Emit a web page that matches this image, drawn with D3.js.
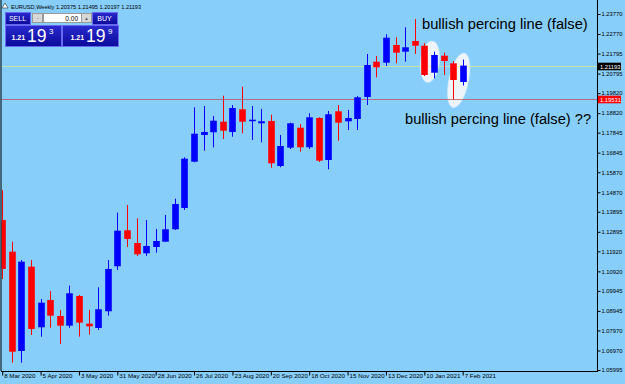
<!DOCTYPE html>
<html lang="en">
<head>
<meta charset="UTF-8">
<title>EURUSD Weekly</title>
<script src="https://d3js.org/d3.v7.min.js"></script>
<style>
  body { margin: 0; background: #87cefa; overflow: hidden; }
  svg { display: block; }
</style>
</head>
<body>
<script>
// weekly candles, 8 Mar 2020 .. 7 Feb 2021
const openP  = [1.13485, 1.11903, 1.06945, 1.11154, 1.08128, 1.09491, 1.08693, 1.08208, 1.09691, 1.08308,
                1.08094, 1.08927, 1.11174, 1.12971, 1.12337, 1.11823, 1.12137, 1.12402, 1.13021, 1.14085,
                1.16396, 1.17729, 1.17864, 1.18393, 1.17879, 1.19012, 1.18428, 1.18313, 1.18428, 1.16181,
                1.17095, 1.18094, 1.17115, 1.18578, 1.16481, 1.18912, 1.18413, 1.18528, 1.19626, 1.21389,
                1.21339, 1.22222, 1.21888, 1.22422, 1.22187, 1.20839, 1.21688, 1.21309, 1.20375];
const highP  = [1.14983, 1.12402, 1.11488, 1.11488, 1.09541, 1.09941, 1.08992, 1.10205, 1.09741, 1.08992,
                1.10125, 1.11488, 1.13850, 1.14234, 1.13570, 1.13485, 1.13036, 1.13735, 1.14549, 1.16616,
                1.19112, 1.19177, 1.18678, 1.19691, 1.19227, 1.20140, 1.19177, 1.19027, 1.18743, 1.17729,
                1.18343, 1.18278, 1.18812, 1.18613, 1.18927, 1.19227, 1.18977, 1.19676, 1.21773, 1.21673,
                1.22757, 1.22607, 1.23106, 1.23520, 1.22307, 1.21888, 1.21838, 1.21424, 1.21495];
const lowP   = [1.10540, 1.06361, 1.06361, 1.07744, 1.07659, 1.08109, 1.07295, 1.08094, 1.07659, 1.07759,
                1.07994, 1.08708, 1.10989, 1.12137, 1.11688, 1.11688, 1.11853, 1.12387, 1.12986, 1.13985,
                1.16366, 1.16945, 1.17115, 1.17529, 1.17644, 1.17814, 1.17479, 1.17365, 1.16097, 1.16117,
                1.17030, 1.16895, 1.17030, 1.16381, 1.16017, 1.17445, 1.17979, 1.17979, 1.19227, 1.20610,
                1.21174, 1.21309, 1.21389, 1.21773, 1.20675, 1.20560, 1.20725, 1.19511, 1.20197];
const closeP = [1.11039, 1.06910, 1.11404, 1.08044, 1.09357, 1.08708, 1.08208, 1.09826, 1.08358, 1.08178,
                1.09027, 1.11039, 1.12951, 1.12537, 1.11773, 1.12187, 1.12437, 1.13021, 1.14284, 1.16546,
                1.17794, 1.17879, 1.18443, 1.17944, 1.19077, 1.18393, 1.18493, 1.18413, 1.16316, 1.17180,
                1.18313, 1.17115, 1.18613, 1.16446, 1.18763, 1.18343, 1.18578, 1.19611, 1.21224, 1.21109,
                1.22587, 1.21838, 1.22108, 1.22187, 1.20725, 1.21723, 1.21424, 1.20475, 1.21193];

const priceTicks = [1.23770, 1.22770, 1.21795, 1.20795, 1.19820, 1.18820, 1.17845, 1.16845, 1.15870, 1.14870,
                    1.13895, 1.12895, 1.11920, 1.10920, 1.09945, 1.08945, 1.07970, 1.06970, 1.05995];
const bidPrice = 1.21193;
const linePrice = 1.19531;
const notes = ["bullish percing line (false)", "bullish percing line (false) ??"];

const width = 625, height = 384;
const plotRight = 597, plotBottom = 371;

const weeks = d3.utcSunday.range(new Date(Date.UTC(2020, 2, 8)), new Date(Date.UTC(2021, 1, 8)));
const candles = weeks.map((d, i) => ({ date: d, o: openP[i], h: highP[i], l: lowP[i], c: closeP[i] }));

const svg = d3.select('body').append('svg')
  .attr('width', width).attr('height', height)
  .style('background', '#87cefa');

// scales
const x = d3.scalePoint().domain(weeks).range([2.2, 462.7]);
const y = d3.scaleLinear().domain([1.05995, 1.23770]).range([370, 14]);

svg.append('defs').append('clipPath').attr('id', 'plot')
  .append('rect').attr('x', 1.5).attr('y', 0).attr('width', plotRight - 1.5).attr('height', plotBottom);
svg.select('defs').append('filter').attr('id', 'soft')
  .append('feGaussianBlur').attr('stdDeviation', 0.7);

const plot = svg.append('g').attr('clip-path', 'url(#plot)');

// highlight ellipses behind candles
const marks = [
  { i: 44, j: 45, rx: 9.6, ry: 21, rot: 7 },
  { i: 47, j: 48, rx: 10, ry: 28, rot: 12 }
];
plot.selectAll('.mark').data(marks).enter().append('ellipse')
  .attr('class', 'mark')
  .attr('transform', d => {
    const cx = (x(weeks[d.i]) + x(weeks[d.j])) / 2 + 0.8;
    const cy = (y(d3.max([highP[d.i], highP[d.j]])) + y(d3.min([lowP[d.i], lowP[d.j]]))) / 2 + 1;
    return 'translate(' + cx + ',' + cy + ') rotate(' + d.rot + ')';
  })
  .attr('rx', d => d.rx).attr('ry', d => d.ry)
  .attr('fill', '#f6f8fa').attr('opacity', 0.92)
  .attr('filter', 'url(#soft)');

// horizontal price lines
plot.append('line')
  .attr('x1', 0).attr('x2', plotRight)
  .attr('y1', Math.round(y(bidPrice)) + 0.5).attr('y2', Math.round(y(bidPrice)) + 0.5)
  .attr('stroke', '#e6f27a').attr('stroke-opacity', 0.8).attr('stroke-width', 0.8);
plot.append('line')
  .attr('x1', 0).attr('x2', plotRight)
  .attr('y1', Math.round(y(linePrice)) + 0.5).attr('y2', Math.round(y(linePrice)) + 0.5)
  .attr('stroke', '#c05050').attr('stroke-opacity', 0.85).attr('stroke-width', 0.9);

// candles
const candle = plot.selectAll('.candle').data(candles).enter().append('g').attr('class', 'candle');
const col = d => d.c >= d.o ? '#0000ff' : '#ff0000';
candle.append('line')
  .attr('x1', d => Math.round(x(d.date)) + 0.5).attr('x2', d => Math.round(x(d.date)) + 0.5)
  .attr('y1', d => y(d.h)).attr('y2', d => y(d.l))
  .attr('stroke', col).attr('stroke-width', 1);
candle.append('rect')
  .attr('x', d => Math.round(x(d.date)) - 2.8)
  .attr('width', 6.6)
  .attr('y', d => y(Math.max(d.o, d.c)))
  .attr('height', d => Math.max(1.5, Math.abs(y(d.o) - y(d.c))))
  .attr('fill', col);

// frame
svg.append('line').attr('x1', 1).attr('x2', 1).attr('y1', 0).attr('y2', plotBottom).attr('stroke', '#000');
svg.append('line').attr('x1', plotRight + 0.5).attr('x2', plotRight + 0.5).attr('y1', 0).attr('y2', plotBottom).attr('stroke', '#000');
svg.append('line').attr('x1', 1).attr('x2', plotRight + 1).attr('y1', plotBottom + 0.5).attr('y2', plotBottom + 0.5).attr('stroke', '#000');

// right price axis
const yAxis = svg.append('g')
  .attr('transform', 'translate(' + (plotRight + 0.5) + ',0)')
  .call(d3.axisRight(y).tickValues(priceTicks).tickSize(3).tickPadding(1).tickFormat(d3.format('.5f')));
yAxis.select('.domain').remove();
yAxis.selectAll('text').attr('font-family', 'Liberation Sans, Arial, sans-serif').attr('font-size', 5.8).attr('fill', '#000');

// bottom date axis
const xAxis = svg.append('g')
  .attr('transform', 'translate(0,' + (plotBottom + 0.5) + ')')
  .call(d3.axisBottom(x).tickValues(weeks.filter((d, i) => i % 4 === 0)).tickSize(4)
    .tickFormat(d3.utcFormat('%-d %b %Y')));
xAxis.select('.domain').remove();
xAxis.selectAll('text')
  .attr('text-anchor', 'start').attr('x', 1.5).attr('y', 2).attr('dy', '0.71em')
  .attr('font-family', 'Liberation Sans, Arial, sans-serif').attr('font-size', 6.2).attr('fill', '#000');

// price labels on the axis
function priceTag(p, fill) {
  const yy = Math.round(y(p)) + 0.5;
  svg.append('rect').attr('x', 598).attr('y', yy - 3.8).attr('width', 23).attr('height', 7.6).attr('fill', fill);
  svg.append('text').attr('x', 600).attr('y', yy).attr('dy', '0.35em')
    .attr('font-family', 'Liberation Sans, Arial, sans-serif').attr('font-size', 5.8).attr('fill', '#fff')
    .text(d3.format('.5f')(p));
}
priceTag(bidPrice, '#000');
priceTag(linePrice, '#ff0000');

// annotations
svg.append('text').attr('x', 422).attr('y', 28.5)
  .attr('font-family', 'Liberation Sans, Arial, sans-serif').attr('font-size', 14.7).attr('fill', '#000')
  .text(notes[0]);
svg.append('text').attr('x', 405).attr('y', 124)
  .attr('font-family', 'Liberation Sans, Arial, sans-serif').attr('font-size', 14.7).attr('fill', '#000')
  .text(notes[1]);

// header line
const last = candles[candles.length - 1];
const head = svg.append('g');
head.append('path').attr('d', 'M2,8 L5,3 L8,8 Z').attr('fill', '#fff').attr('stroke', '#333').attr('stroke-width', 0.6);
head.append('text').attr('x', 11).attr('y', 9)
  .attr('font-family', 'Liberation Sans, Arial, sans-serif').attr('font-size', 5.6).attr('fill', '#000')
  .text('EURUSD,Weekly  ' + [last.o, last.h, last.l, last.c].map(d3.format('.5f')).join(' '));

// one-click trading panel
const panel = svg.append('g').attr('font-family', 'Liberation Sans, Arial, sans-serif');
const grad = svg.select('defs').append('linearGradient').attr('id', 'btn').attr('x1', 0).attr('x2', 0).attr('y1', 0).attr('y2', 1);
grad.append('stop').attr('offset', 0).attr('stop-color', '#2a2ad0');
grad.append('stop').attr('offset', 1).attr('stop-color', '#0a0a9a');

function button(x0, y0, w, h) {
  panel.append('rect').attr('x', x0 + 0.5).attr('y', y0 + 0.5).attr('width', w).attr('height', h)
    .attr('fill', 'url(#btn)').attr('stroke', '#6a6af0').attr('stroke-width', 1);
}
button(5, 12, 25, 12);
button(92, 12, 25, 12);
panel.append('text').attr('x', 17.5).attr('y', 21).attr('text-anchor', 'middle').attr('font-size', 7).attr('fill', '#fff').text('SELL');
panel.append('text').attr('x', 104.5).attr('y', 21).attr('text-anchor', 'middle').attr('font-size', 7).attr('fill', '#fff').text('BUY');

panel.append('rect').attr('x', 32.5).attr('y', 13.5).attr('width', 10).attr('height', 9).attr('fill', '#d8d8d8').attr('stroke', '#999');
panel.append('rect').attr('x', 43.5).attr('y', 13.5).attr('width', 38).attr('height', 9).attr('fill', '#fff').attr('stroke', '#999');
panel.append('rect').attr('x', 81.5).attr('y', 13.5).attr('width', 10).attr('height', 9).attr('fill', '#d8d8d8').attr('stroke', '#999');
panel.append('text').attr('x', 37.5).attr('y', 19.5).attr('text-anchor', 'middle').attr('font-size', 5).attr('fill', '#555').text('-');
panel.append('text').attr('x', 86.5).attr('y', 20).attr('text-anchor', 'middle').attr('font-size', 4.5).attr('fill', '#555').text('▲');
panel.append('text').attr('x', 78).attr('y', 20.5).attr('text-anchor', 'end').attr('font-size', 6.5).attr('fill', '#000').text('0.00');

button(5, 25, 56, 21);
button(62, 25, 56, 21);
function quote(x0, digits) {
  panel.append('text').attr('x', x0).attr('y', 40).attr('font-size', 7).attr('font-weight', 'bold').attr('fill', '#fff').text('1.21');
  panel.append('text').attr('x', x0 + 15.5).attr('y', 42).attr('font-size', 17.5).attr('fill', '#fff').text(digits[0]);
  panel.append('text').attr('x', x0 + 37.5).attr('y', 33.5).attr('font-size', 8).attr('fill', '#fff').text(digits[1]);
}
quote(11.5, ['19', '3']);
quote(70.5, ['19', '9']);
</script>
</body>
</html>
